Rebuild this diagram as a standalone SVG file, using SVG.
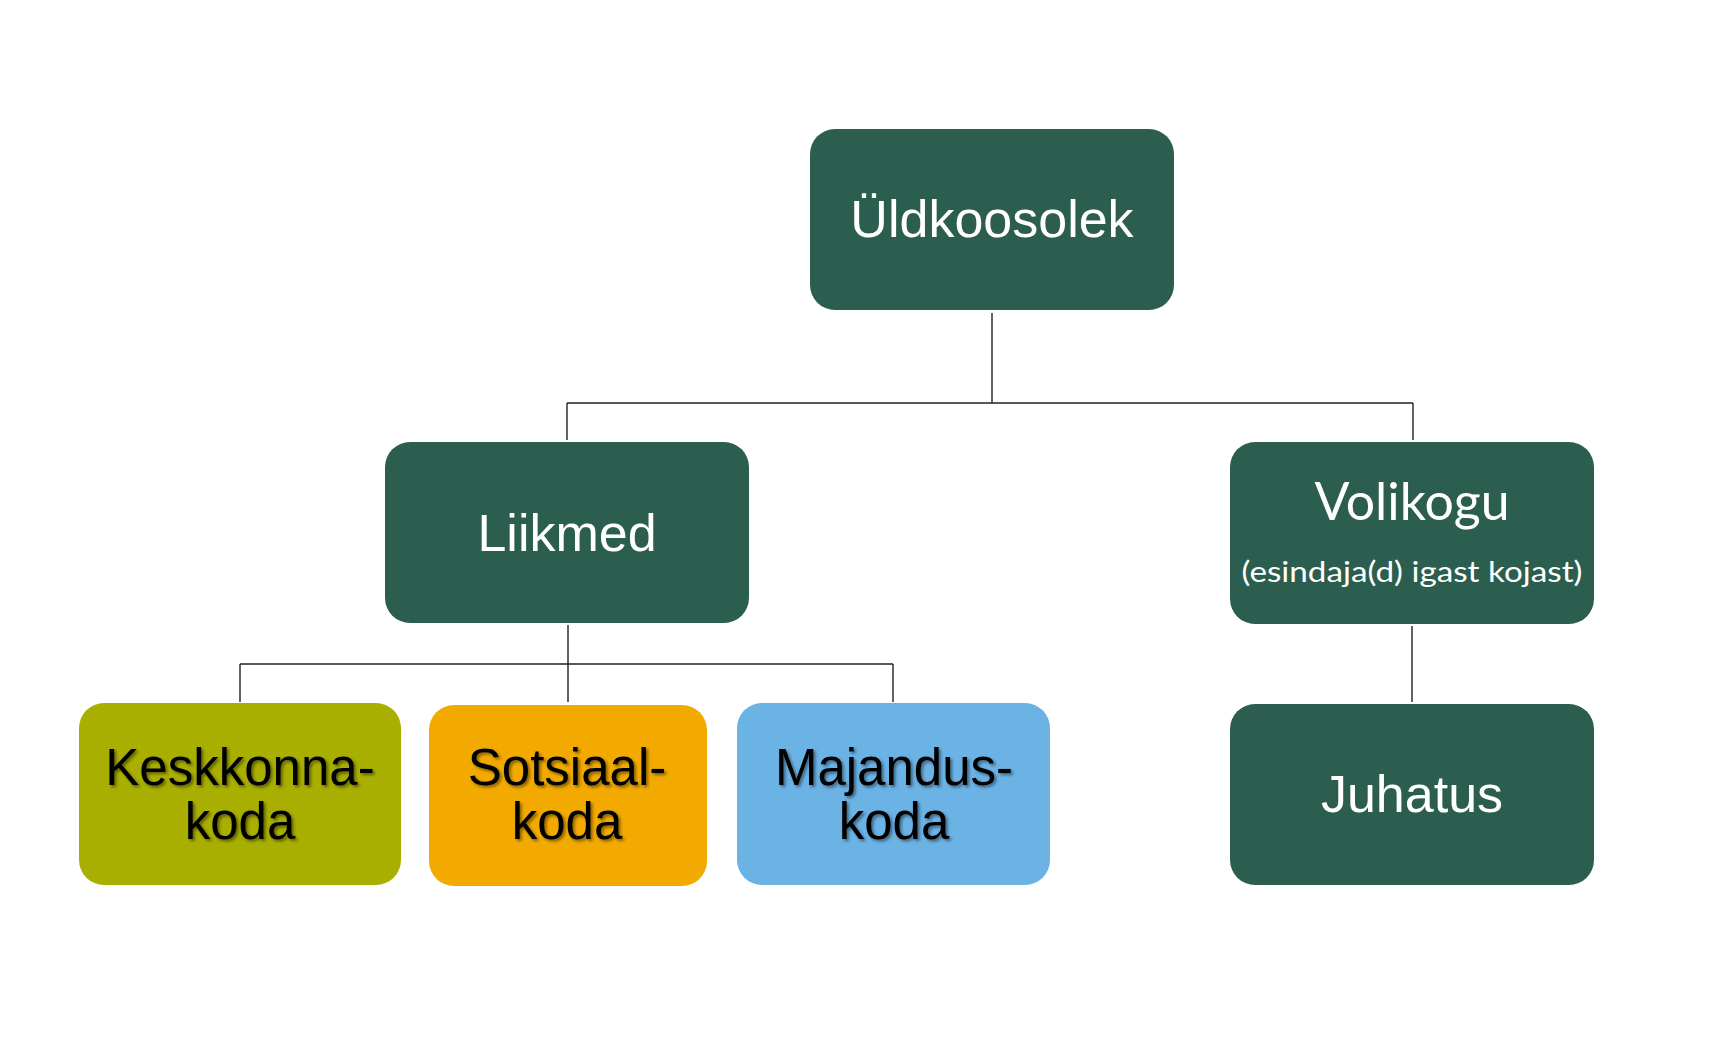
<svg xmlns="http://www.w3.org/2000/svg" width="1716" height="1059" viewBox="0 0 1716 1059">
<defs>
<style>
.box{stroke:none}
.dark{fill:#2B5E4E}
.olive{fill:#A9AF00}
.orange{fill:#F2AA00}
.blue{fill:#6BB2E5}
.wt{font-family:"Liberation Sans",Arial,sans-serif;font-size:52px;fill:#FFFFFF;text-anchor:middle}
.bt{font-family:"Liberation Sans",Arial,sans-serif;font-size:51px;fill:#000000;text-anchor:middle}
.ct{font-family:Lato,"Open Sans",sans-serif;fill:#FFFFFF;text-anchor:middle}
.conn{fill:none;stroke:#222222;stroke-width:1.4}
</style>
<filter id="shadow" x="-10%" y="-20%" width="120%" height="140%">
<feDropShadow dx="2" dy="2" stdDeviation="1.5" flood-color="#000000" flood-opacity="0.45"/>
</filter>
</defs>
<rect width="1716" height="1059" fill="#FFFFFF"/>
<g id="connectors">
<path class="conn" d="M992 313 V403 M567 403 H1413 M567 403 V440 M1413 403 V440"/>
<path class="conn" d="M568 625 V702 M240 664 H893 M240 664 V702 M893 664 V702"/>
<path class="conn" d="M1412 626 V702"/>
</g>
<g id="node-uldkoosolek">
<rect class="box dark" x="810" y="129" width="364" height="181" rx="25"/>
<text class="wt" x="992" y="237">Üldkoosolek</text>
</g>
<g id="node-liikmed">
<rect class="box dark" x="385" y="442" width="364" height="181" rx="25"/>
<text class="wt" x="567" y="551">Liikmed</text>
</g>
<g id="node-volikogu">
<rect class="box dark" x="1230" y="442" width="364" height="182" rx="25"/>
<text class="ct" x="1412" y="520" font-size="52" textLength="195" lengthAdjust="spacingAndGlyphs">Volikogu</text>
<text class="ct" x="1412" y="582" font-size="29" textLength="341" lengthAdjust="spacingAndGlyphs">(esindaja(d) igast kojast)</text>
</g>
<g id="node-keskkonnakoda">
<rect class="box olive" x="79" y="703" width="322" height="182" rx="25"/>
<text class="bt" filter="url(#shadow)"><tspan x="240" y="785">Keskkonna-</tspan><tspan x="240" y="839">koda</tspan></text>
</g>
<g id="node-sotsiaalkoda">
<rect class="box orange" x="429" y="705" width="278" height="181" rx="25"/>
<text class="bt" filter="url(#shadow)"><tspan x="567" y="785">Sotsiaal-</tspan><tspan x="567" y="839">koda</tspan></text>
</g>
<g id="node-majanduskoda">
<rect class="box blue" x="737" y="703" width="313" height="182" rx="25"/>
<text class="bt" filter="url(#shadow)"><tspan x="894" y="785">Majandus-</tspan><tspan x="894" y="839">koda</tspan></text>
</g>
<g id="node-juhatus">
<rect class="box dark" x="1230" y="704" width="364" height="181" rx="25"/>
<text class="wt" x="1412" y="812">Juhatus</text>
</g>
</svg>
